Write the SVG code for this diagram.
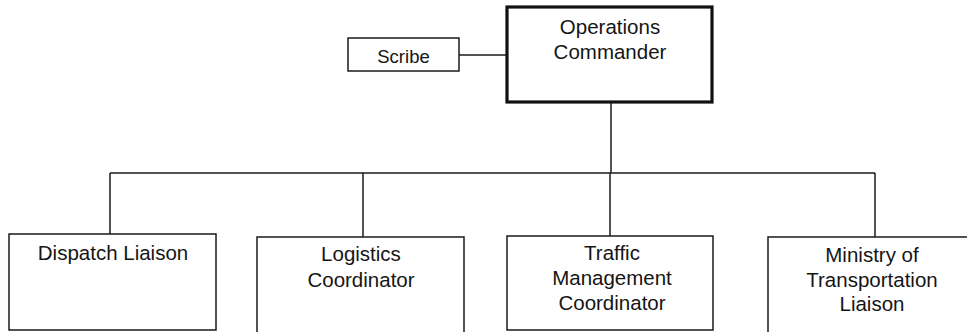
<svg xmlns="http://www.w3.org/2000/svg" width="967" height="332" viewBox="0 0 967 332">
  <style>
    .box { fill: #ffffff; stroke: #1a1a1a; stroke-width: 1.5; }
    .box-main { fill: #ffffff; stroke: #111111; stroke-width: 3.2; }
    .lbl { font-family: "Liberation Sans", Arial, sans-serif; font-size: 20.5px; fill: #151515; text-anchor: middle; }
    .lbl-sm { font-size: 18.5px; }
    .wire { fill: none; stroke: #1a1a1a; stroke-width: 1.5; }
  </style>
  <rect width="967" height="332" fill="#ffffff"/>

  <!-- connectors -->
  <g id="connectors">
    <line class="wire" x1="459" y1="55" x2="507" y2="55"/>
    <line class="wire" x1="611" y1="102" x2="611" y2="173"/>
    <line class="wire" x1="110" y1="173" x2="875" y2="173"/>
    <line class="wire" x1="110" y1="173" x2="110" y2="234"/>
    <line class="wire" x1="363" y1="173" x2="363" y2="237"/>
    <line class="wire" x1="610" y1="173" x2="610" y2="236"/>
    <line class="wire" x1="875" y1="173" x2="875" y2="237"/>
  </g>

  <!-- top level -->
  <g id="operations-commander">
    <rect class="box-main" x="507" y="7" width="205" height="95"/>
    <text class="lbl" x="610" y="34">Operations</text>
    <text class="lbl" x="610" y="59">Commander</text>
  </g>

  <g id="scribe">
    <rect class="box" x="348" y="38" width="111" height="33"/>
    <text class="lbl lbl-sm" x="403.5" y="63">Scribe</text>
  </g>

  <!-- second level -->
  <g id="dispatch-liaison">
    <rect class="box" x="9" y="234" width="207" height="96"/>
    <text class="lbl" x="113" y="260">Dispatch Liaison</text>
  </g>

  <g id="logistics-coordinator">
    <rect class="box" x="257" y="237" width="207" height="100"/>
    <text class="lbl" x="361" y="261">Logistics</text>
    <text class="lbl" x="361" y="287">Coordinator</text>
  </g>

  <g id="traffic-management-coordinator">
    <rect class="box" x="507" y="236" width="206" height="94"/>
    <text class="lbl" x="612" y="260">Traffic</text>
    <text class="lbl" x="612" y="285">Management</text>
    <text class="lbl" x="612" y="310">Coordinator</text>
  </g>

  <g id="ministry-of-transportation-liaison">
    <rect class="box" x="768" y="237" width="210" height="100"/>
    <text class="lbl" x="872" y="262">Ministry of</text>
    <text class="lbl" x="872" y="287">Transportation</text>
    <text class="lbl" x="872" y="311">Liaison</text>
  </g>
</svg>
